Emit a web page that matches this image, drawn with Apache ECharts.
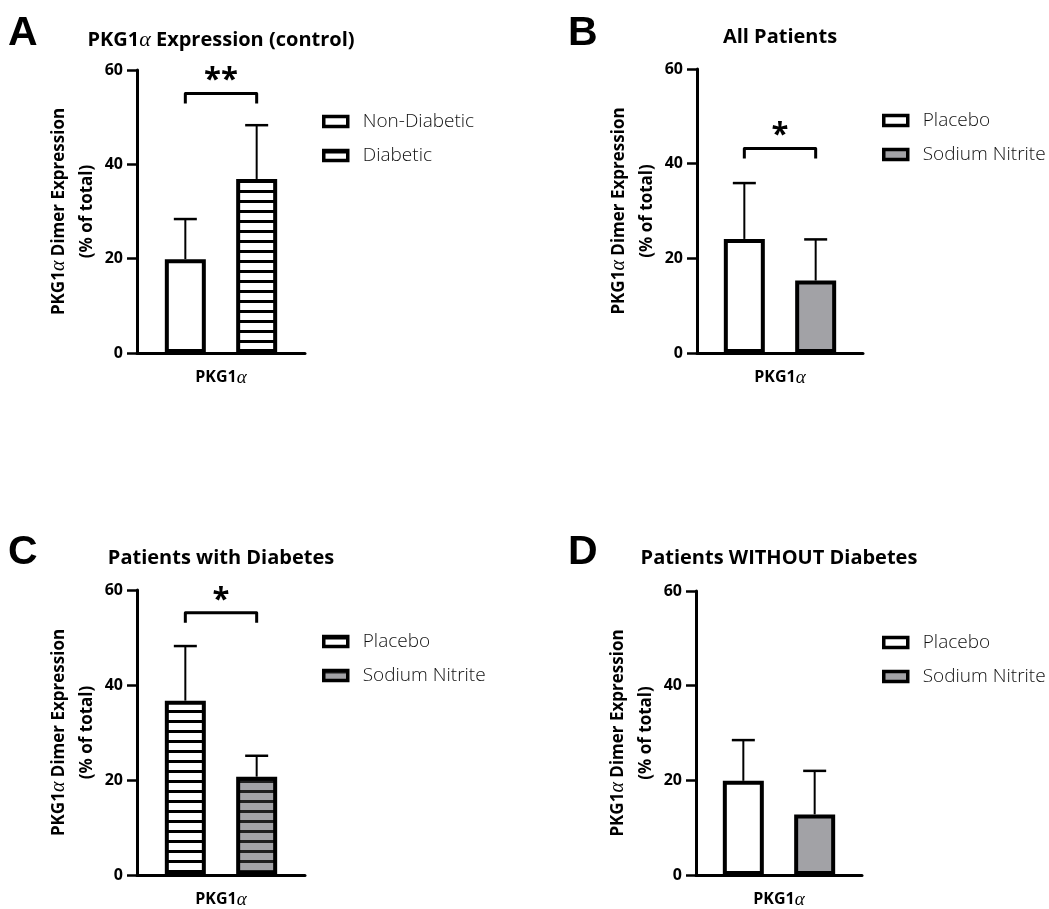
<!DOCTYPE html>
<html><head><meta charset="utf-8">
<script src="https://cdn.jsdelivr.net/npm/echarts@6/dist/echarts.min.js"></script>
<style>
html,body{margin:0;padding:0;background:#fff;width:1049px;height:909px;overflow:hidden}
.p{position:absolute}
</style></head>
<body>
<div id="pA" class="p" style="left:0;top:0;width:560px;height:460px"></div>
<div id="pB" class="p" style="left:560px;top:0;width:489px;height:460px"></div>
<div id="pC" class="p" style="left:0;top:520px;width:560px;height:389px"></div>
<div id="pD" class="p" style="left:560px;top:520px;width:489px;height:389px"></div>
<script>
// ---------------- data ----------------
const categories = ['PKG1α'];
const yTickValues = [0, 20, 40, 60];
const yAxisName = 'PKG1α Dimer Expression\n(% of total)';
const panelLetters = ['A', 'B', 'C', 'D'];
const panelTitles = ['PKG1α Expression (control)', 'All Patients', 'Patients with Diabetes', 'Patients WITHOUT Diabetes'];
const namesA = ['Non-Diabetic', 'Diabetic'];
const namesBCD = ['Placebo', 'Sodium Nitrite'];
const meansA = [19.9, 36.9];
const sdA = [8.5, 11.4];
const meansB = [24.1, 15.3];
const sdB = [11.8, 8.7];
const meansC = [36.7, 20.7];
const sdC = [11.5, 4.4];
const meansD = [19.9, 12.8];
const sdD = [8.6, 9.2];
const sigLevels = [55, 43.2, 55.2, null];
const sigLabels = ['**', '*', '*', ''];

// ---------------- styles ----------------
const GREY = '#a2a2a6';
function stripePattern(bg, stripe) {
  const c = document.createElement('canvas');
  c.width = 10; c.height = 10;
  const g = c.getContext('2d');
  g.fillStyle = bg; g.fillRect(0, 0, 10, 10);
  g.fillStyle = stripe; g.fillRect(0, 0, 10, 3);
  return { image: c, repeat: 'repeat' };
}
const WHITE_HATCH = stripePattern('#ffffff', '#000000');
const GREY_HATCH = stripePattern(GREY, '#1e1e1e');

const BAR_W = 41, GAP = 0.74, CAP = 11.5;
const FONT = '"Open Sans", "Noto Sans", sans-serif';
const ALPHA_STYLE = { fontFamily: '"Liberation Serif", "DejaVu Serif", serif', fontStyle: 'italic', fontWeight: 'normal' };

function alphaRich(s) { return s.split('α').join('{g|α}'); }

function buildPanel(id, idx, names, means, sds, fills, grid) {
  const chart = echarts.init(document.getElementById(id), null, { renderer: 'canvas' });
  const off = BAR_W * (1 + GAP) / 2;
  const barSeries = names.map((n, i) => ({
    type: 'bar', name: n, data: [means[i]], barWidth: BAR_W, barGap: (GAP * 100) + '%',
    itemStyle: { color: fills[i], borderColor: '#000', borderWidth: 4 },
    emphasis: { disabled: true }, z: 3
  }));
  const errSeries = {
    type: 'custom', name: '_err', z: 2, silent: true,
    data: means.map((m, i) => [0, m, m + sds[i], i === 0 ? -1 : 1]),
    renderItem: (params, api) => {
      const c = api.coord([api.value(0), api.value(1)]);
      const t = api.coord([api.value(0), api.value(2)]);
      const x = c[0] + api.value(3) * off;
      return { type: 'group', children: [
        { type: 'line', shape: { x1: x, y1: c[1], x2: x, y2: t[1] }, style: { stroke: '#000', lineWidth: 2 } },
        { type: 'line', shape: { x1: x - CAP, y1: t[1], x2: x + CAP, y2: t[1] }, style: { stroke: '#000', lineWidth: 2.5 } }
      ] };
    }
  };
  const series = barSeries.concat([errSeries]);
  if (sigLevels[idx] != null) {
    series.push({
      type: 'custom', name: '_sig', z: 4, silent: true,
      data: [[0, sigLevels[idx]]],
      renderItem: (params, api) => {
        const p = api.coord([api.value(0), api.value(1)]);
        const xl = p[0] - off, xr = p[0] + off, y = p[1];
        return { type: 'group', children: [
          { type: 'polyline', shape: { points: [[xl, y + 10], [xl, y], [xr, y], [xr, y + 10]] },
            style: { stroke: '#000', lineWidth: 3, fill: null, lineJoin: 'round' } },
          { type: 'text', style: { text: sigLabels[idx], x: p[0], y: y - 13, align: 'center', verticalAlign: 'middle',
            fontSize: 31, fontWeight: 'bold', fontFamily: FONT, fill: '#000' } }
        ] };
      }
    });
  }
  chart.setOption({
    animation: false,
    backgroundColor: '#fff',
    title: [
      { text: panelLetters[idx], left: 8, top: grid.letterTop, padding: 0,
        textStyle: { fontFamily: '"Liberation Sans", Arial, sans-serif', fontWeight: 'bold', fontSize: 41, color: '#000' } },
      { text: alphaRich(panelTitles[idx]), left: grid.left + grid.width / 2, textAlign: 'center', top: grid.titleTop, padding: 0,
        textStyle: { fontFamily: FONT, fontWeight: 'bold', fontSize: 20, color: '#000',
          rich: { g: Object.assign({ fontSize: 22, color: '#000' }, ALPHA_STYLE) } } }
    ],
    legend: {
      orient: 'vertical', left: 322, top: grid.top + 41, padding: 0, itemGap: 13,
      itemWidth: 24, itemHeight: 10, icon: 'rect', selectedMode: false,
      data: names.map(n => ({ name: n, itemStyle: { borderColor: '#000', borderWidth: 3.5 } })),
      textStyle: { fontFamily: FONT, fontWeight: 300, fontSize: 19, color: '#111', lineHeight: 21, padding: [0, 0, 0, 10] }
    },
    grid: { left: grid.left, top: grid.top, width: grid.width, height: grid.height, outerBoundsMode: 'none', containLabel: false },
    xAxis: {
      type: 'category', data: categories,
      axisLine: { lineStyle: { color: '#000', width: 3 } },
      axisTick: { alignWithLabel: true, length: 9, lineStyle: { color: '#000', width: 2.5 } },
      axisLabel: { margin: 15, color: '#000', fontFamily: FONT, fontWeight: 'bold', fontSize: 16,
        formatter: v => alphaRich(v),
        rich: { g: Object.assign({ fontSize: 19, color: '#000' }, ALPHA_STYLE) } },
      splitLine: { show: false }
    },
    yAxis: {
      type: 'value', min: yTickValues[0], max: yTickValues[yTickValues.length - 1], interval: yTickValues[1] - yTickValues[0],
      name: alphaRich(yAxisName), nameLocation: 'middle', nameGap: 36,
      nameTextStyle: { fontFamily: FONT, fontWeight: 'bold', fontSize: 17, color: '#000', lineHeight: 28,
        rich: { g: Object.assign({ fontSize: 20, color: '#000', lineHeight: 28 }, ALPHA_STYLE) } },
      axisLine: { show: true, lineStyle: { color: '#000', width: 3 } },
      axisTick: { show: true, length: 10, lineStyle: { color: '#000', width: 2.5 } },
      axisLabel: { margin: 14, color: '#000', fontFamily: FONT, fontWeight: 'bold', fontSize: 16 },
      splitLine: { show: false }
    },
    series: series
  });
  return chart;
}

buildPanel('pA', 0, namesA, meansA, sdA, ['#ffffff', WHITE_HATCH],
  { left: 137, top: 70, width: 168, height: 283, titleTop: 29, letterTop: 13 });
buildPanel('pB', 1, namesBCD, meansB, sdB, ['#ffffff', GREY],
  { left: 137, top: 69, width: 166, height: 284, titleTop: 27, letterTop: 13 });
buildPanel('pC', 2, namesBCD, meansC, sdC, [WHITE_HATCH, GREY_HATCH],
  { left: 137, top: 70, width: 168, height: 285, titleTop: 28, letterTop: 12 });
buildPanel('pD', 3, namesBCD, meansD, sdD, ['#ffffff', GREY],
  { left: 136, top: 71, width: 166, height: 284, titleTop: 28, letterTop: 12 });
</script>
</body></html>
